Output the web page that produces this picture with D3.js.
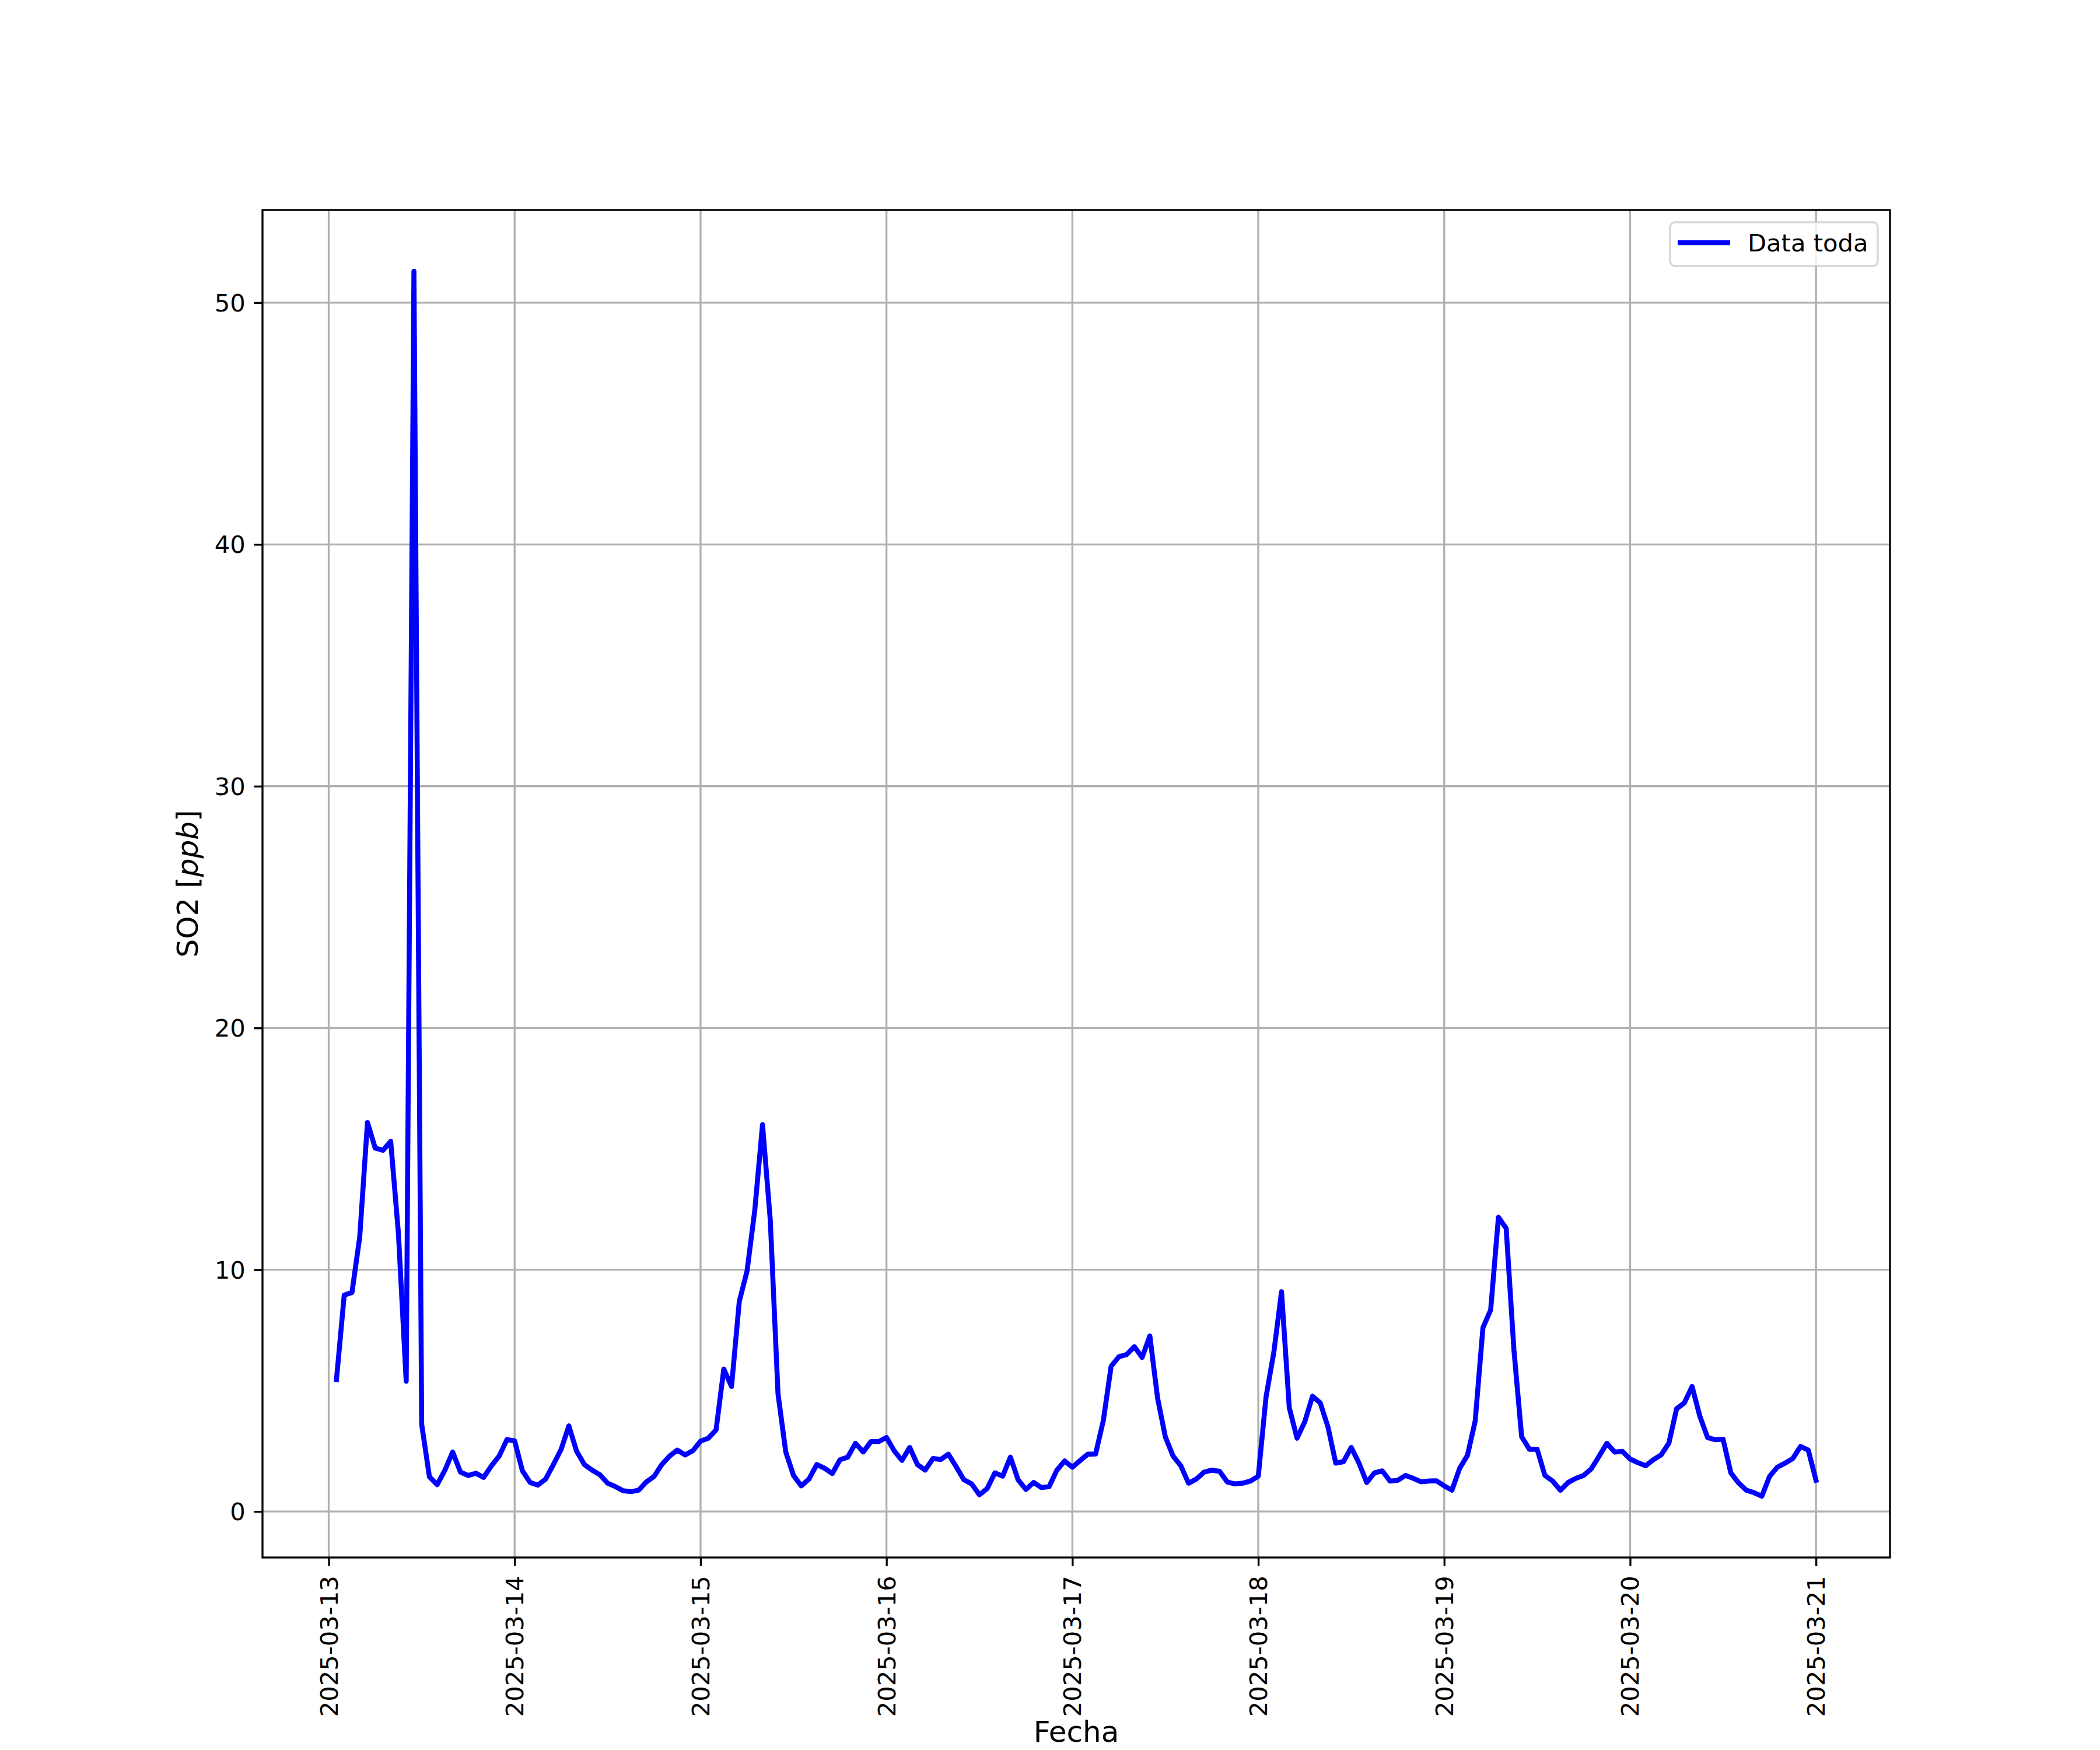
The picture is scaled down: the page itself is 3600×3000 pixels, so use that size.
<!DOCTYPE html>
<html>
<head>
<meta charset="utf-8">
<script src="https://cdn.jsdelivr.net/npm/d3@7"></script>
<style>
  html, body { margin: 0; padding: 0; background: #ffffff; }
  svg { display: block; font-family: "DejaVu Sans", sans-serif; }
</style>
</head>
<body>
<svg id="chart" width="3600" height="3000"></svg>
<script>
// Hourly SO2 [ppb], each array runs from 01:00 of the named day to 00:00 of the next day
const seriesStart = Date.UTC(2025, 2, 13, 1); // 2025-03-13 01:00
const so2_0313 = [5.46, 8.95, 9.06, 11.35, 16.09, 15.03, 14.94, 15.31, 11.49, 5.39, 51.3, 3.6, 1.43, 1.11, 1.71, 2.46, 1.63, 1.49, 1.58, 1.41, 1.89, 2.29, 2.97, 2.92];
const so2_0314 = [1.68, 1.2, 1.09, 1.34, 1.94, 2.57, 3.54, 2.49, 1.94, 1.71, 1.52, 1.17, 1.03, 0.86, 0.82, 0.88, 1.22, 1.45, 1.94, 2.29, 2.54, 2.34, 2.51, 2.91];
const so2_0315 = [3.03, 3.37, 5.89, 5.17, 8.69, 9.94, 12.46, 16.0, 12.06, 4.86, 2.46, 1.49, 1.06, 1.34, 1.94, 1.79, 1.57, 2.14, 2.25, 2.82, 2.46, 2.89, 2.89, 3.06];
const so2_0316 = [2.51, 2.11, 2.65, 1.94, 1.71, 2.19, 2.15, 2.37, 1.85, 1.31, 1.14, 0.69, 0.95, 1.6, 1.46, 2.25, 1.31, 0.91, 1.2, 0.99, 1.03, 1.71, 2.09, 1.83];
const so2_0317 = [2.11, 2.37, 2.38, 3.77, 6.0, 6.4, 6.49, 6.82, 6.37, 7.26, 4.69, 3.09, 2.29, 1.89, 1.17, 1.34, 1.63, 1.71, 1.66, 1.22, 1.14, 1.17, 1.26, 1.46];
const so2_0318 = [4.74, 6.57, 9.09, 4.29, 3.03, 3.71, 4.77, 4.49, 3.49, 2.0, 2.06, 2.65, 2.0, 1.2, 1.6, 1.68, 1.26, 1.29, 1.49, 1.37, 1.23, 1.26, 1.27, 1.06];
const so2_0319 = [0.88, 1.79, 2.32, 3.74, 7.6, 8.34, 12.17, 11.71, 6.69, 3.09, 2.57, 2.57, 1.49, 1.26, 0.88, 1.2, 1.37, 1.49, 1.77, 2.29, 2.82, 2.46, 2.49, 2.17];
const so2_0320 = [2.02, 1.89, 2.14, 2.34, 2.82, 4.25, 4.49, 5.17, 3.94, 3.06, 2.97, 2.99, 1.6, 1.18, 0.88, 0.78, 0.63, 1.45, 1.83, 2.0, 2.19, 2.69, 2.54, 1.29];

const xTickLabels = ["2025-03-13", "2025-03-14", "2025-03-15", "2025-03-16", "2025-03-17", "2025-03-18", "2025-03-19", "2025-03-20", "2025-03-21"];
const yTicks = [0, 10, 20, 30, 40, 50];
const seriesName = "Data toda";
const xLabel = "Fecha";

// ---- build data table
const allValues = [].concat(so2_0313, so2_0314, so2_0315, so2_0316, so2_0317, so2_0318, so2_0319, so2_0320);
const HOUR = 3600 * 1000;
const data = allValues.map((v, i) => ({ t: new Date(seriesStart + i * HOUR), v: v }));
const xTickDates = xTickLabels.map(s => { const [y, m, d] = s.split("-").map(Number); return new Date(Date.UTC(y, m - 1, d)); });

// ---- layout (matplotlib-like)
const W = 3600, H = 3000;
const margin = { left: 450, right: 360, top: 360, bottom: 330 };
const pw = W - margin.left - margin.right;
const ph = H - margin.top - margin.bottom;
const PT = 300 / 72;

const svg = d3.select("#chart");
svg.append("rect").attr("width", W).attr("height", H).attr("fill", "#ffffff");
const g = svg.append("g").attr("transform", `translate(${margin.left},${margin.top})`);

// domains with 5% padding
const tExt = d3.extent(data, d => d.t.getTime());
const tPad = (tExt[1] - tExt[0]) * 0.05;
const vExt = d3.extent(data, d => d.v);
const vPad = (vExt[1] - vExt[0]) * 0.05;

const x = d3.scaleUtc().domain([new Date(tExt[0] - tPad), new Date(tExt[1] + tPad)]).range([0, pw]);
const y = d3.scaleLinear().domain([vExt[0] - vPad, vExt[1] + vPad]).range([ph, 0]);

// grid
const gridW = 0.8 * PT;
g.append("g").selectAll("line").data(xTickDates).join("line")
  .attr("x1", d => x(d)).attr("x2", d => x(d)).attr("y1", 0).attr("y2", ph)
  .attr("stroke", "#b0b0b0").attr("stroke-width", gridW);
g.append("g").selectAll("line").data(yTicks).join("line")
  .attr("x1", 0).attr("x2", pw).attr("y1", d => y(d)).attr("y2", d => y(d))
  .attr("stroke", "#b0b0b0").attr("stroke-width", gridW);

// line
const line = d3.line().x(d => x(d.t)).y(d => y(d.v));
g.append("path").datum(data)
  .attr("d", line)
  .attr("fill", "none")
  .attr("stroke", "#0000ff")
  .attr("stroke-width", 2.05 * PT)
  .attr("stroke-linejoin", "round")
  .attr("stroke-linecap", "square");

// axes via d3
const tickFont = 10 * PT;
const tickLen = 3.5 * PT;
const tickPad = 3.5 * PT;

const xAxis = d3.axisBottom(x).tickValues(xTickDates).tickFormat((d, i) => xTickLabels[i])
  .tickSize(tickLen).tickPadding(tickPad);
const xg = g.append("g").attr("transform", `translate(0,${ph})`).call(xAxis);
xg.select(".domain").remove();
xg.selectAll(".tick line").attr("stroke", "#000").attr("stroke-width", 0.8 * PT);
xg.selectAll(".tick text")
  .attr("font-size", tickFont)
  .attr("font-family", "DejaVu Sans")
  .attr("fill", "#000")
  .attr("text-anchor", "end")
  .attr("dominant-baseline", "central")
  .attr("dy", null)
  .attr("y", 0)
  .attr("x", 0)
  .attr("transform", `translate(0,${tickLen + tickPad + 2}) rotate(-90)`);

const yAxis = d3.axisLeft(y).tickValues(yTicks).tickFormat(d3.format("d"))
  .tickSize(tickLen).tickPadding(tickPad);
const yg = g.append("g").call(yAxis);
yg.select(".domain").remove();
yg.selectAll(".tick line").attr("stroke", "#000").attr("stroke-width", 0.8 * PT);
yg.selectAll(".tick text")
  .attr("font-size", tickFont)
  .attr("font-family", "DejaVu Sans")
  .attr("fill", "#000")
  .attr("dy", null)
  .attr("dominant-baseline", "central");

// spines
g.append("rect").attr("x", 0).attr("y", 0).attr("width", pw).attr("height", ph)
  .attr("fill", "none").attr("stroke", "#000").attr("stroke-width", 0.8 * PT);

// axis labels
const labelFont = 12 * PT;
svg.append("text")
  .attr("x", margin.left + pw / 2).attr("y", 2986)
  .attr("text-anchor", "middle")
  .attr("font-size", labelFont).attr("fill", "#000")
  .text(xLabel);

const yl = svg.append("text")
  .attr("transform", `translate(322,${margin.top + ph / 2}) rotate(-90)`)
  .attr("text-anchor", "middle")
  .attr("dominant-baseline", "central")
  .attr("font-size", labelFont).attr("fill", "#000");
yl.append("tspan").text("SO2 [");
yl.append("tspan").attr("font-style", "italic").text("ppb");
yl.append("tspan").text("]");

// legend
const lg = svg.append("g");
const lx0 = 2863, ly0 = 381, lw = 356, lh = 75;
lg.append("rect").attr("x", lx0).attr("y", ly0).attr("width", lw).attr("height", lh)
  .attr("rx", 2 * PT).attr("ry", 2 * PT)
  .attr("fill", "#ffffff").attr("fill-opacity", 0.8)
  .attr("stroke", "#cccccc").attr("stroke-opacity", 0.8).attr("stroke-width", 0.8 * PT);
lg.append("line").attr("x1", 2876).attr("x2", 2966).attr("y1", 416).attr("y2", 416)
  .attr("stroke", "#0000ff").attr("stroke-width", 2.05 * PT).attr("stroke-linecap", "butt");
lg.append("text").attr("x", 2996).attr("y", 416)
  .attr("dominant-baseline", "central")
  .attr("font-size", tickFont).attr("fill", "#000")
  .text(seriesName);
</script>
</body>
</html>
